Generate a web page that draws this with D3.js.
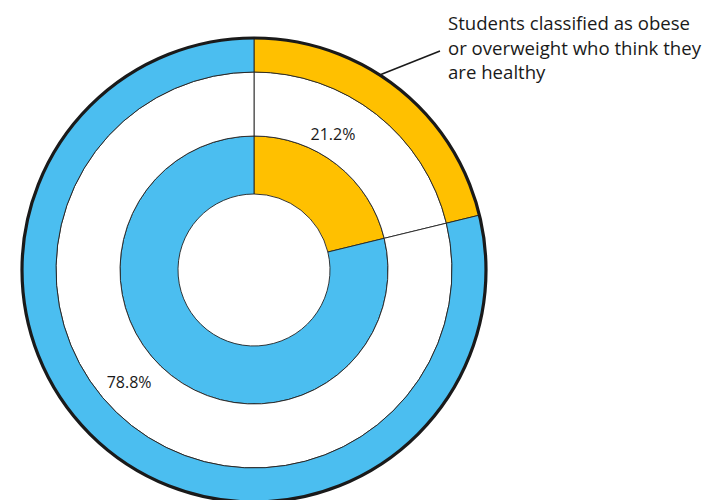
<!DOCTYPE html>
<html>
<head>
<meta charset="utf-8">
<script src="https://cdn.jsdelivr.net/npm/d3@7"></script>
<style>
  body { margin: 0; background: #fff; }
  svg text { font-family: "Open Sans", "Noto Sans", sans-serif; fill: #1a1a1a; }
</style>
</head>
<body>
<svg id="chart" width="707" height="500"></svg>
<script>
'use strict';

// slices, clockwise from 12 o'clock
var categories = ['Think they are healthy', 'Other'];
var values = [21.2, 78.8];
var labels = ['21.2%', '78.8%'];
var colors = ['#FFC000', '#4BBEF0'];
var calloutLines = ['Students classified as obese', 'or overweight who think they', 'are healthy'];

var svg = d3.select('#chart');
var cx = 254, cy = 270;

var pie = d3.pie().sort(null).value(function (d) { return d; });
var slices = pie(values);

var g = svg.append('g').attr('transform', 'translate(' + cx + ',' + cy + ')');

// rings: inner coloured, middle white, outer coloured
var rings = [
    { inner: 76, outer: 134, fill: function (d, i) { return colors[i]; } },
    { inner: 134, outer: 198, fill: function () { return '#fff'; } },
    { inner: 198, outer: 232, fill: function (d, i) { return colors[i]; } }
];

rings.forEach(function (r) {
    var arc = d3.arc().innerRadius(r.inner).outerRadius(r.outer);
    g.append('g').selectAll('path')
        .data(slices)
        .enter().append('path')
        .attr('d', arc)
        .attr('fill', r.fill)
        .attr('stroke', '#222')
        .attr('stroke-width', 0.9)
        .attr('stroke-linejoin', 'round');
});

// thick border round the outside
g.append('circle')
    .attr('r', 232)
    .attr('fill', 'none')
    .attr('stroke', '#1a1a1a')
    .attr('stroke-width', 3.2);

// percentage labels in the white ring (angle clockwise from top, radius)
var labelPos = [
    { angle: 30.2, r: 157 },
    { angle: 228, r: 168 }
];
g.selectAll('text.pct')
    .data(labels)
    .enter().append('text')
    .attr('class', 'pct')
    .attr('text-anchor', 'middle')
    .attr('x', function (d, i) { return labelPos[i].r * Math.sin(labelPos[i].angle * Math.PI / 180); })
    .attr('y', function (d, i) { return -labelPos[i].r * Math.cos(labelPos[i].angle * Math.PI / 180) + 6; })
    .style('font-size', '16px')
    .text(function (d) { return d; });

// callout for the orange slice
var leadAngle = 33 * Math.PI / 180;
var lx = 233 * Math.sin(leadAngle), ly = -233 * Math.cos(leadAngle);
g.append('line')
    .attr('x1', lx).attr('y1', ly)
    .attr('x2', 440 - cx).attr('y2', 51 - cy)
    .attr('stroke', '#1a1a1a')
    .attr('stroke-width', 1.6);

svg.append('g').selectAll('text')
    .data(calloutLines)
    .enter().append('text')
    .attr('x', 448)
    .attr('y', function (d, i) { return 30 + i * 24.5; })
    .style('font-size', '18.6px')
    .text(function (d) { return d; });
</script>
</body>
</html>
